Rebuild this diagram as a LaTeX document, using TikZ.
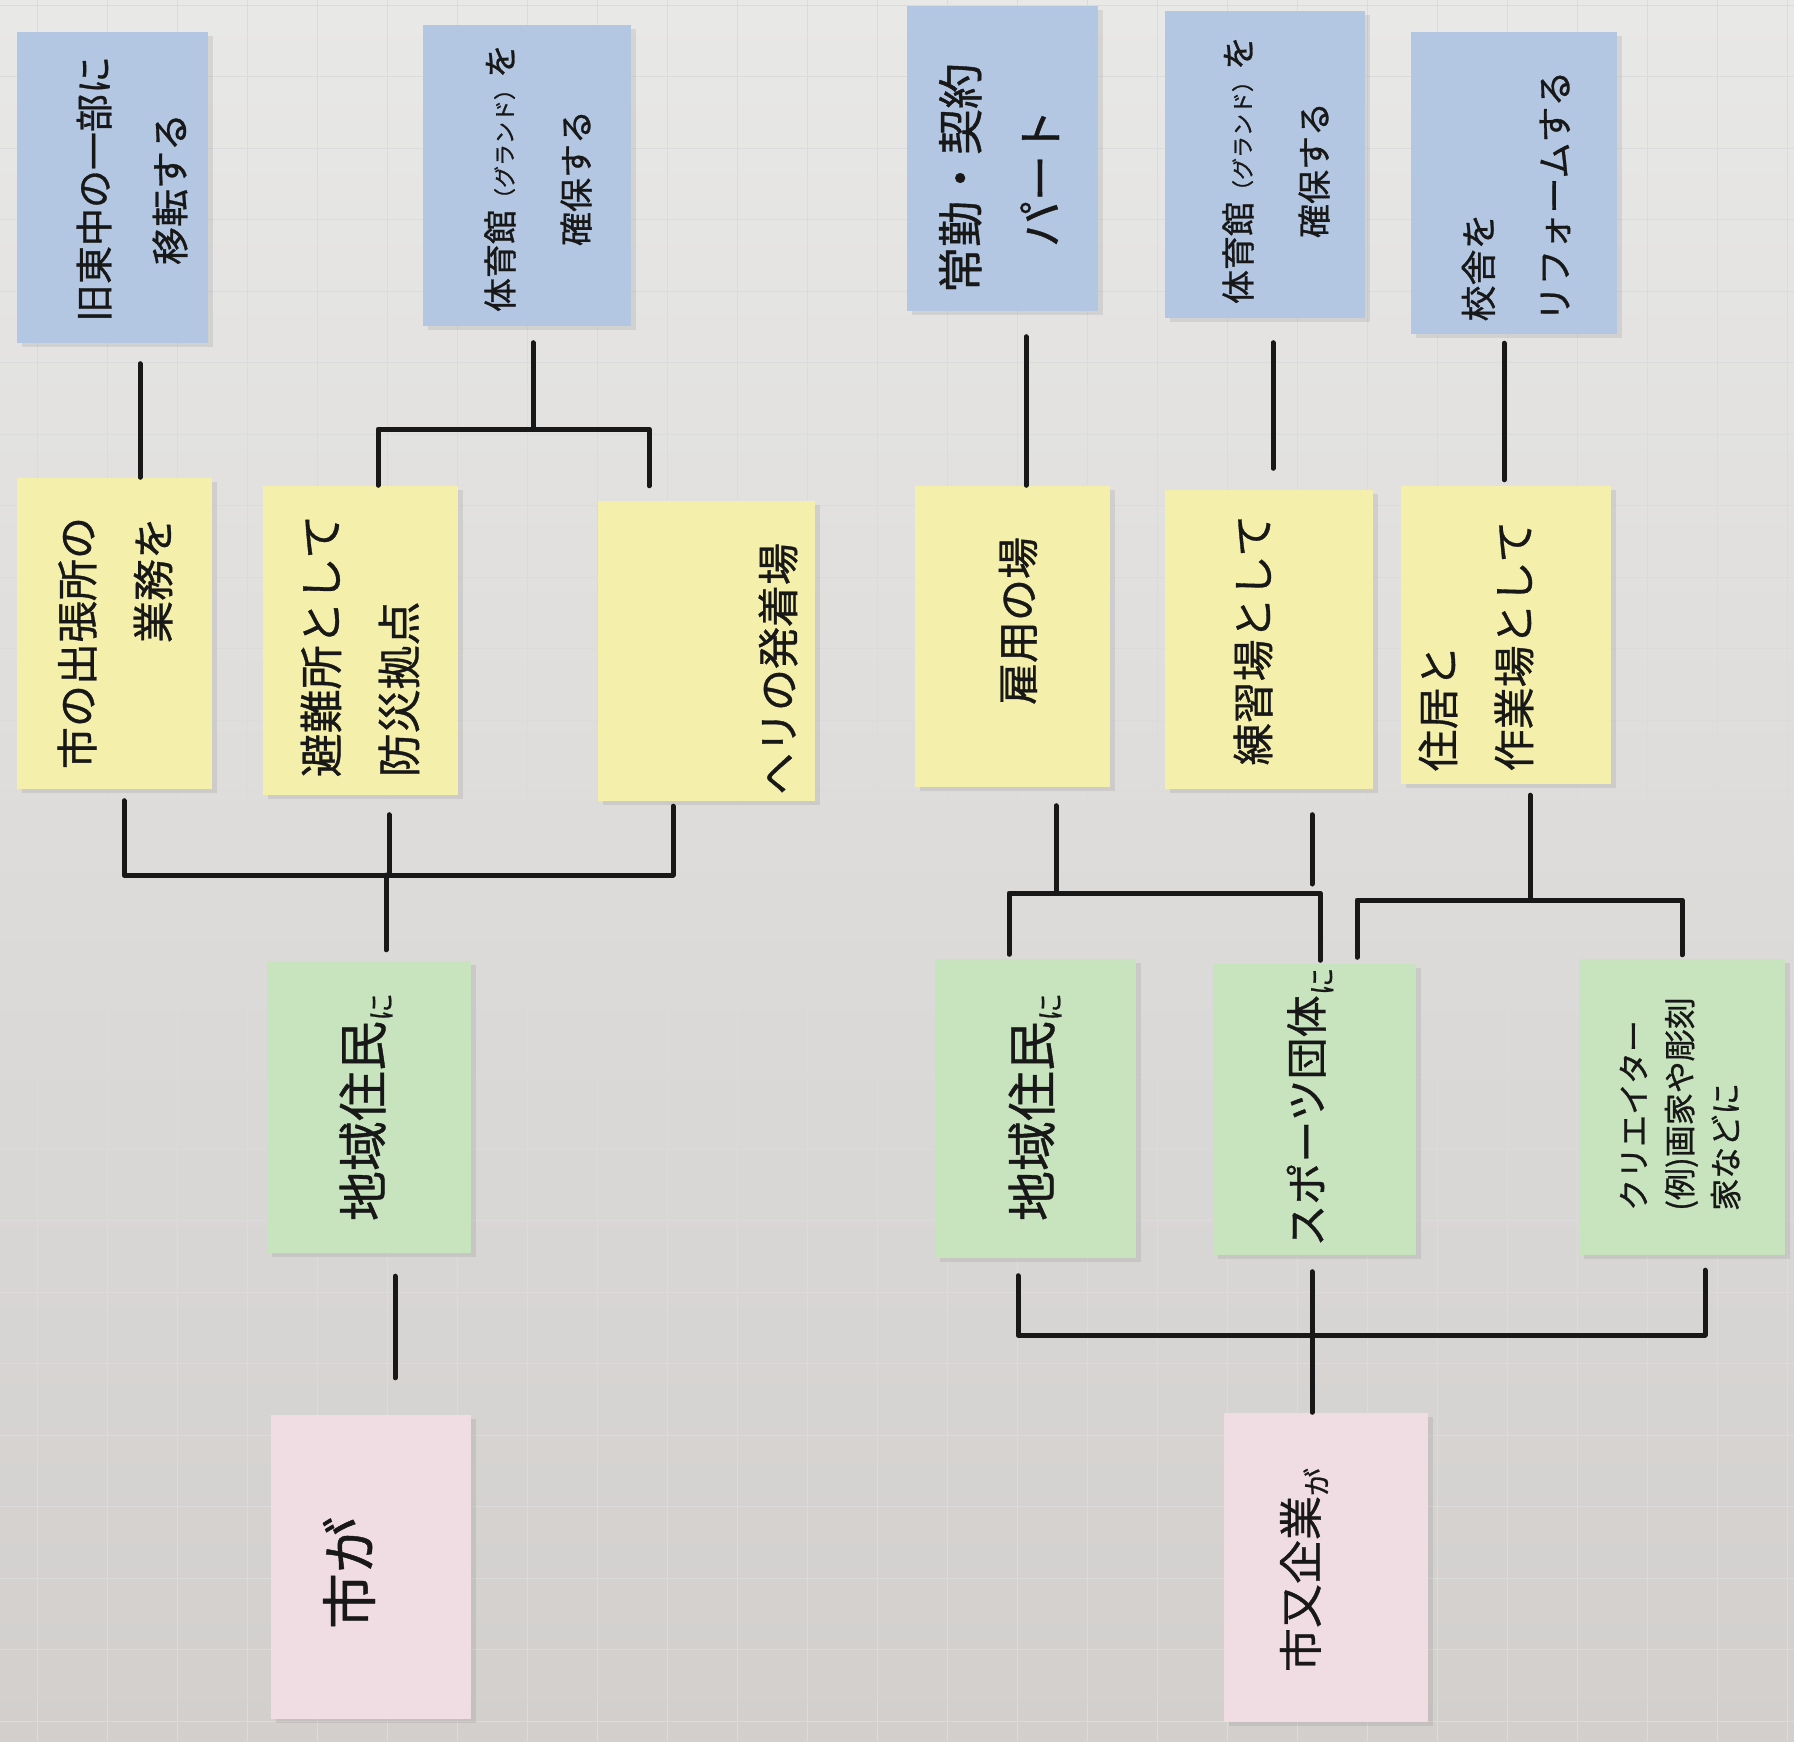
\documentclass[tikz,border=0pt]{standalone}
\usepackage{fontspec}
\newfontfamily\jp[FakeBold=0.8]{Noto Sans CJK JP}
\usetikzlibrary{shadows}
\definecolor{noteblue}{RGB}{180,199,226}
\definecolor{noteyellow}{RGB}{244,240,172}
\definecolor{notegreen}{RGB}{200,228,190}
\definecolor{notepink}{RGB}{240,221,228}
\definecolor{papertop}{RGB}{232,232,231}
\definecolor{paperbottom}{RGB}{210,207,205}
\definecolor{ink}{RGB}{24,24,24}
\newcommand{\smallkana}[1]{{\fontsize{22}{24}\selectfont #1}}
\newcommand{\lowkana}[1]{\raisebox{-10pt}{\fontsize{28}{30}\selectfont #1}}

\begin{document}
\begin{tikzpicture}[x=1pt,y=-1pt,
    note/.style={rectangle, inner sep=0pt, drop shadow={shadow xshift=5pt, shadow yshift=-4pt, opacity=0.18}},
    bluenote/.style={note, fill=noteblue},
    yellownote/.style={note, fill=noteyellow},
    greennote/.style={note, fill=notegreen},
    pinknote/.style={note, fill=notepink},
    hand/.style={rotate=90, text=ink, inner sep=0pt, align=center, font=\jp\fontsize{42}{76}\selectfont},
    wire/.style={ink, line width=5pt, line cap=round, line join=round},
    gridline/.style={black!14, line width=1pt}]
    \useasboundingbox (0,0) rectangle (1794,1741);
    \shade[top color=papertop, bottom color=paperbottom] (0,0) rectangle (1794,1741);
    \foreach \i in {0,...,24}
    \draw[gridline] (0,{5+\i*71.5}) -- (1794,{5+\i*71.5});
    \foreach \i in {0,...,25}
    \draw[gridline] ({37+\i*70},0) -- ({37+\i*70},1741);

    % blue notes
    \node[bluenote, minimum width=191pt, minimum height=311pt] (b1) at (112,187) {};
    \node[bluenote, minimum width=208pt, minimum height=301pt] (b2) at (527,175) {};
    \node[bluenote, minimum width=191pt, minimum height=305pt] (b3) at (1002,158) {};
    \node[bluenote, minimum width=200pt, minimum height=307pt] (b4) at (1265,164) {};
    \node[bluenote, minimum width=206pt, minimum height=302pt] (b5) at (1514,183) {};
    \node[hand, font=\jp\fontsize{38}{76}\selectfont] (b1t) at (132,189) {旧東中の一部に\\移転する};
    \node[hand, font=\jp\fontsize{34}{76}\selectfont] (b2t) at (538,178) {体育館\smallkana{（グランド）}を\\確保する};
    \node[hand, font=\jp\fontsize{46}{80}\selectfont] (b3t) at (999,178) {常勤・契約\\パート};
    \node[hand, font=\jp\fontsize{34}{76}\selectfont] (b4t) at (1276,170) {体育館\smallkana{（グランド）}を\\確保する};
    \node[hand, align=left, font=\jp\fontsize{36}{76}\selectfont] (b5t) at (1516,196) {校舎を\\リフォームする};
    % \node[hand] at (1516,196) {校舎をリフォームする};

    % yellow notes
    \node[yellownote, minimum width=195pt, minimum height=311pt] (y1) at (114,633) {};
    \node[yellownote, minimum width=195pt, minimum height=309pt] (y2) at (360,640) {};
    \node[yellownote, minimum width=217pt, minimum height=300pt] (y3) at (706,651) {};
    \node[yellownote, minimum width=195pt, minimum height=301pt] (y4) at (1012,636) {};
    \node[yellownote, minimum width=208pt, minimum height=299pt] (y5) at (1269,639) {};
    \node[yellownote, minimum width=210pt, minimum height=298pt] (y6) at (1506,635) {};
    \node[hand, align=right] (y1t) at (115,643) {市の出張所の\\業務を};
    \node[hand, align=left, font=\jp\fontsize{44}{78}\selectfont] (y2t) at (360,646) {避難所として\\防災拠点};
    \node[hand] (y3t) at (778,669) {ヘリの発着場};
    \node[hand] (y4t) at (1018,621) {雇用の場};
    \node[hand] (y5t) at (1253,640) {練習場として};
    \node[hand, align=left] (y6t) at (1476,646) {住居と\\作業場として};

    % green notes
    \node[greennote, minimum width=204pt, minimum height=292pt] (g1) at (369,1107) {};
    \node[greennote, minimum width=201pt, minimum height=299pt] (g2) at (1035,1108) {};
    \node[greennote, minimum width=203pt, minimum height=291pt] (g3) at (1314,1109) {};
    \node[greennote, minimum width=206pt, minimum height=296pt] (g4) at (1682,1107) {};
    \node[hand, font=\jp\fontsize{50}{76}\selectfont] (g1t) at (366,1107) {地域住民\lowkana{に}};
    \node[hand, font=\jp\fontsize{50}{76}\selectfont] (g2t) at (1035,1107) {地域住民\lowkana{に}};
    \node[hand] (g3t) at (1310,1107) {スポーツ団体\lowkana{に}};
    \node[hand, align=left, font=\jp\fontsize{32}{46}\selectfont] (g4t) at (1680,1104) {クリエイター\\(例)画家や彫刻\\家などに};

    % pink notes
    \node[pinknote, minimum width=200pt, minimum height=304pt] (p1) at (371,1567) {};
    \node[pinknote, minimum width=204pt, minimum height=309pt] (p2) at (1326,1567) {};
    \node[hand, font=\jp\fontsize{56}{76}\selectfont] (p1t) at (349,1573) {市が};
    \node[hand, font=\jp\fontsize{44}{76}\selectfont] (p2t) at (1304,1570) {市又企業\lowkana{が}};

    % blue -> yellow
    \draw[wire, shorten <=21pt] (b1.south -| 140,0) -- (y1.north -| 140,0);
    \draw[wire, shorten <=17pt] (b2.south -| 533,0) -- (533,429);
    \draw[wire, shorten >=15pt] (y2.north -| 378,0) -- (378,429) -- (649,429) -- (y3.north -| 649,0);
    \draw[wire, shorten <=26pt] (b3.south -| 1026,0) -- (y4.north -| 1026,0);
    \draw[wire, shorten <=25pt, shorten >=21pt] (b4.south -| 1273,0) -- (y5.north -| 1273,0);
    \draw[wire, shorten <=9pt, shorten >=6pt] (b5.south -| 1504,0) -- (y6.north -| 1504,0);

    % yellow -> green
    \draw[wire, shorten <=12pt] (y1.south -| 124,0) -- (124,875) -- (673,875);
    \draw[wire, shorten <=20pt] (y2.south -| 389,0) -- (389,875);
    \draw[wire, shorten <=5pt] (y3.south -| 673,0) -- (673,875);
    \draw[wire, shorten >=11pt] (386,875) -- (g1.north -| 386,0);
    \draw[wire, shorten <=19pt] (y4.south -| 1056,0) -- (1056,893);
    \draw[wire, shorten <=26pt] (y5.south -| 1312,0) -- (1312,884);
    \draw[wire, shorten <=4pt, shorten >=3pt] (g2.north -| 1009,0) -- (1009,893) -- (1320,893) -- (g3.north -| 1320,0);
    \draw[wire, shorten <=11pt] (y6.south -| 1530,0) -- (1530,900);
    \draw[wire, shorten <=6pt, shorten >=4pt] (g3.north -| 1357,0) -- (1357,900) -- (1682,900) -- (g4.north -| 1682,0);

    % green -> pink
    \draw[wire, shorten <=23pt, shorten >=37pt] (g1.south -| 395,0) -- (p1.north -| 395,0);
    \draw[wire, shorten <=18pt] (g2.south -| 1018,0) -- (1018,1335) -- (1705,1335);
    \draw[wire, shorten <=15pt] (g4.south -| 1705,0) -- (1705,1335);
    \draw[wire, shorten <=17pt] (g3.south -| 1312,0) -- (p2.north -| 1312,0);
  \end{tikzpicture}
\end{document}
